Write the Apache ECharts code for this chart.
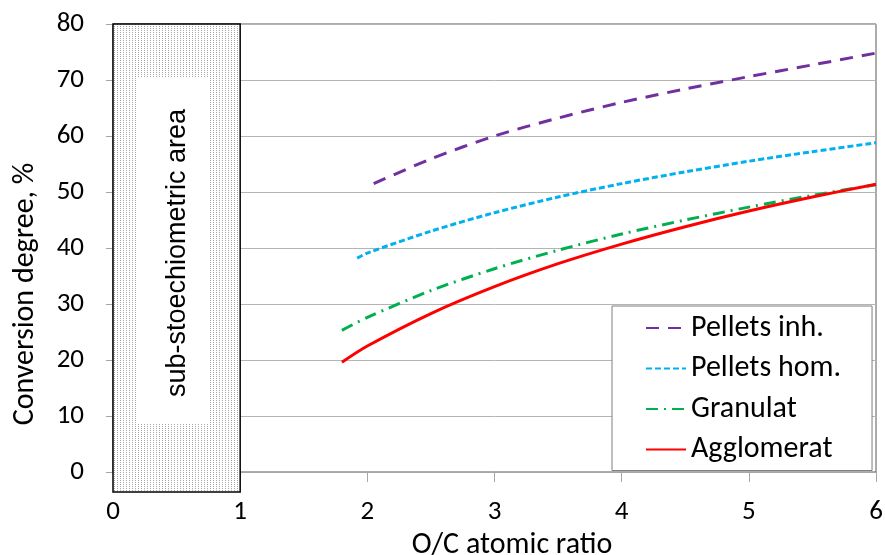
<!DOCTYPE html>
<html><head><meta charset="utf-8">
<script src="https://cdn.jsdelivr.net/npm/echarts@6/dist/echarts.min.js"></script>
<style>html,body{margin:0;padding:0;background:#fff}#c{width:885px;height:555px}</style>
</head><body><div id="c"></div>
<script>
// ---- data ----
const seriesNames = ['Pellets inh.', 'Pellets hom.', 'Granulat', 'Agglomerat'];
const xInh  = [2.05, 2.5, 3, 3.5, 4, 4.5, 5, 5.5, 6];
const yInh  = [51.5, 55.9, 60.0, 63.2, 66.0, 68.4, 70.6, 72.7, 74.8];
const xHom  = [1.92, 2, 2.5, 3, 3.5, 4, 4.5, 5, 5.5, 6];
const yHom  = [38.2, 39.1, 43.0, 46.3, 49.1, 51.5, 53.6, 55.5, 57.2, 58.8];
const xGran = [1.8, 2, 2.5, 3, 3.5, 4, 4.5, 5, 5.5, 6];
const yGran = [25.3, 27.6, 32.4, 36.3, 39.6, 42.5, 45.0, 47.3, 49.4, 51.3];
const xAgg  = [1.8, 2, 2.5, 3, 3.5, 4, 4.5, 5, 5.5, 6];
const yAgg  = [19.6, 22.5, 28.3, 33.1, 37.2, 40.7, 43.8, 46.6, 49.1, 51.4];
const subArea = [0, 1];           // O/C range of the sub-stoichiometric area
const subAreaLabel = 'sub-stoechiometric area';
const xTitle = 'O/C atomic ratio';
const yTitle = 'Conversion degree, %';

const FONT = 'Carlito, Lato, sans-serif';
const zip = (xs, ys) => xs.map((x, i) => [x, ys[i]]);

const chart = echarts.init(document.getElementById('c'), null, {renderer: 'canvas'});

function mkSeries(name, xs, ys, color, dash) {
  return {
    name, type: 'line', data: zip(xs, ys), smooth: 0.3, symbol: 'none',
    lineStyle: {color, width: 3, type: dash, cap: 'butt'},
    itemStyle: {color}, z: 5
  };
}

const option = {
  animation: false,
  grid: {left: 113, right: 9, top: 24, bottom: 83, show: true, borderColor: '#595959', borderWidth: 1,
         outerBoundsMode: 'none', containLabel: false},
  xAxis: {
    type: 'value', min: 0, max: 6, interval: 1,
    name: xTitle, nameLocation: 'middle', nameGap: 49,
    nameTextStyle: {fontFamily: FONT, fontSize: 30, color: '#000', padding: [0, 0, 0, 35]},
    axisLine: {show: true, lineStyle: {color: '#a6a6a6', width: 1}},
    axisTick: {show: true, length: 10, lineStyle: {color: '#a6a6a6'}},
    axisLabel: {fontFamily: FONT, fontSize: 27, color: '#000', margin: 27},
    splitLine: {show: false}
  },
  yAxis: {
    type: 'value', min: 0, max: 80, interval: 10,
    name: yTitle, nameLocation: 'middle', nameGap: 73,
    nameTextStyle: {fontFamily: FONT, fontSize: 30, color: '#000', padding: [0, 0, 0, -92]},
    axisLine: {show: false},
    axisTick: {show: true, length: 7, lineStyle: {color: '#a6a6a6'}},
    axisLabel: {fontFamily: FONT, fontSize: 27, color: '#000', margin: 29},
    splitLine: {show: true, lineStyle: {color: '#b4b4b4', width: 1}}
  },
  legend: {
    orient: 'vertical', left: 612, top: 306,
    backgroundColor: '#fff', borderColor: '#7f7f7f', borderWidth: 1,
    padding: [7, 31, 6, 33], itemGap: 10.5, itemWidth: 40, itemHeight: 30,
    itemStyle: {opacity: 0},
    textStyle: {fontFamily: FONT, fontSize: 30, color: '#000'},
    data: seriesNames,
    z: 10
  },
  series: [
    mkSeries(seriesNames[0], xInh, yInh, '#7030a0', [13, 9]),
    mkSeries(seriesNames[1], xHom, yHom, '#00b0f0', [6, 3]),
    mkSeries(seriesNames[2], xGran, yGran, '#00b050', [12, 6, 2, 6]),
    mkSeries(seriesNames[3], xAgg, yAgg, '#ff0000', 'solid')
  ]
};
chart.setOption(option);

// dotted fill pattern for the sub-stoichiometric area
const pc = document.createElement('canvas');
pc.width = 3; pc.height = 2;
const pctx = pc.getContext('2d');
pctx.fillStyle = '#fff'; pctx.fillRect(0, 0, 3, 2);
pctx.fillStyle = '#a8a8a8'; pctx.fillRect(0, 0, 1, 1);

const p0 = chart.convertToPixel({gridIndex: 0}, [subArea[0], 80]);
const p1 = chart.convertToPixel({gridIndex: 0}, [subArea[1], 0]);
const x0 = p0[0], x1 = p1[0], yTop = p0[1], yBot = p1[1] + 20;
const w = x1 - x0;
chart.setOption({
  graphic: [
    {type: 'rect', shape: {x: x0, y: yTop, width: w, height: yBot - yTop},
     style: {fill: {image: pc, repeat: 'repeat'}, stroke: '#000', lineWidth: 1.5}, z: 20},
    {type: 'rect', shape: {x: x0 + 24, y: yTop + 54, width: 73, height: 345},
     style: {fill: '#fff'}, z: 21},
    {type: 'text', x: x0 + 65, y: yTop + 229, rotation: Math.PI / 2,
     style: {text: subAreaLabel, font: '27px "Liberation Sans", Arial, sans-serif', fill: '#000',
             align: 'center', verticalAlign: 'middle'}, z: 22}
  ]
});
</script></body></html>
